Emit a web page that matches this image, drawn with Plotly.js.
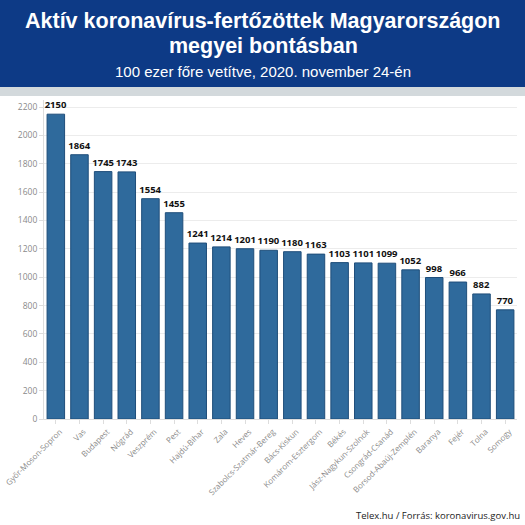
<!DOCTYPE html>
<html><head><meta charset="utf-8">
<script src="https://cdn.plot.ly/plotly-3.0.1.min.js"></script>
<style>html,body{margin:0;padding:0;background:#fff}#chart{width:525px;height:525px}</style>
</head><body><div id="chart"></div>
<script>
const counties = ["Győr-Moson-Sopron","Vas","Budapest","Nógrád","Veszprém","Pest","Hajdú-Bihar","Zala","Heves","Szabolcs-Szatmár-Bereg","Bács-Kiskun","Komárom-Esztergom","Békés","Jász-Nagykun-Szolnok","Csongrád-Csanád","Borsod-Abaúj-Zemplén","Baranya","Fejér","Tolna","Somogy"];
const values = [2150,1864,1745,1743,1554,1455,1241,1214,1201,1190,1180,1163,1103,1101,1099,1052,998,966,882,770];
const yTicks = [0,200,400,600,800,1000,1200,1400,1600,1800,2000,2200];

const W = 525, H = 525, ML = 44, MR = 8, MT = 100, MB = 106;
const plotW = W - ML - MR, plotH = H - MT - MB;
const xPix = p => (p - ML) / plotW;
const yPix = p => (H - MB - p) / plotH;

const trace = {
  type: 'bar', x: counties, y: values,
  text: values.map(v => '<b>' + v + '</b>'), textposition: 'outside', cliponaxis: false,
  constraintext: 'none',
  textfont: {family: 'Open Sans, sans-serif', size: 9.5, color: '#111'},
  marker: {color: '#2f6a9c', line: {color: '#1f4e7a', width: 1}},
  hoverinfo: 'none'
};
const layout = {
  width: W, height: H,
  margin: {l: ML, r: MR, t: MT, b: MB},
  paper_bgcolor: '#fff', plot_bgcolor: '#fff',
  bargap: 0.26, showlegend: false,
  font: {family: 'Open Sans, sans-serif'},
  xaxis: {
    tickangle: -45, tickfont: {size: 8, color: '#8a8a8a', family: 'Open Sans, sans-serif'},
    ticks: 'outside', ticklen: 4, tickcolor: '#ddd', showline: true, linecolor: '#ddd',
    ticklabelshift: 4,
    range: [-0.5, 19.5], fixedrange: true
  },
  yaxis: {
    range: [0, 2250], tickvals: yTicks, tickfont: {size: 8.5, color: '#8a8a8a', family: 'Open Sans, sans-serif'},
    gridcolor: '#ececec', showline: true, linecolor: '#ddd', ticks: 'outside', ticklen: 4, tickcolor: '#ddd',
    zeroline: false, fixedrange: true
  },
  shapes: [
    {type: 'rect', xref: 'paper', yref: 'paper', x0: xPix(0), x1: xPix(W), y0: yPix(87), y1: yPix(0),
     fillcolor: '#0d3a86', line: {width: 0}, layer: 'below'},
    {type: 'rect', xref: 'paper', yref: 'paper', x0: xPix(0), x1: xPix(W), y0: yPix(96), y1: yPix(87),
     fillcolor: '#d3d9dc', line: {width: 0}, layer: 'below'}
  ],
  annotations: [
    {text: '<b>Aktív koronavírus-fertőzöttek Magyarországon</b>', xref: 'paper', yref: 'paper', x: xPix(263), y: yPix(21), showarrow: false,
     font: {family: 'Liberation Sans, Arial, sans-serif', size: 21.5, color: '#fff'}, xanchor: 'center', yanchor: 'middle'},
    {text: '<b>megyei bontásban</b>', xref: 'paper', yref: 'paper', x: xPix(263), y: yPix(46), showarrow: false,
     font: {family: 'Liberation Sans, Arial, sans-serif', size: 21.5, color: '#fff'}, xanchor: 'center', yanchor: 'middle'},
    {text: '100 ezer főre vetítve, 2020. november 24-én', xref: 'paper', yref: 'paper', x: xPix(263), y: yPix(71), showarrow: false,
     font: {family: 'Liberation Sans, Arial, sans-serif', size: 15, color: '#fff'}, xanchor: 'center', yanchor: 'middle'},
    {text: 'Telex.hu / Forrás: koronavirus.gov.hu', xref: 'paper', yref: 'paper', x: xPix(522), y: yPix(515), showarrow: false,
     font: {family: 'Open Sans, sans-serif', size: 9.5, color: '#222'}, xanchor: 'right', yanchor: 'middle'}
  ]
};
Plotly.newPlot('chart', [trace], layout, {displayModeBar: false, staticPlot: true});
</script></body></html>
